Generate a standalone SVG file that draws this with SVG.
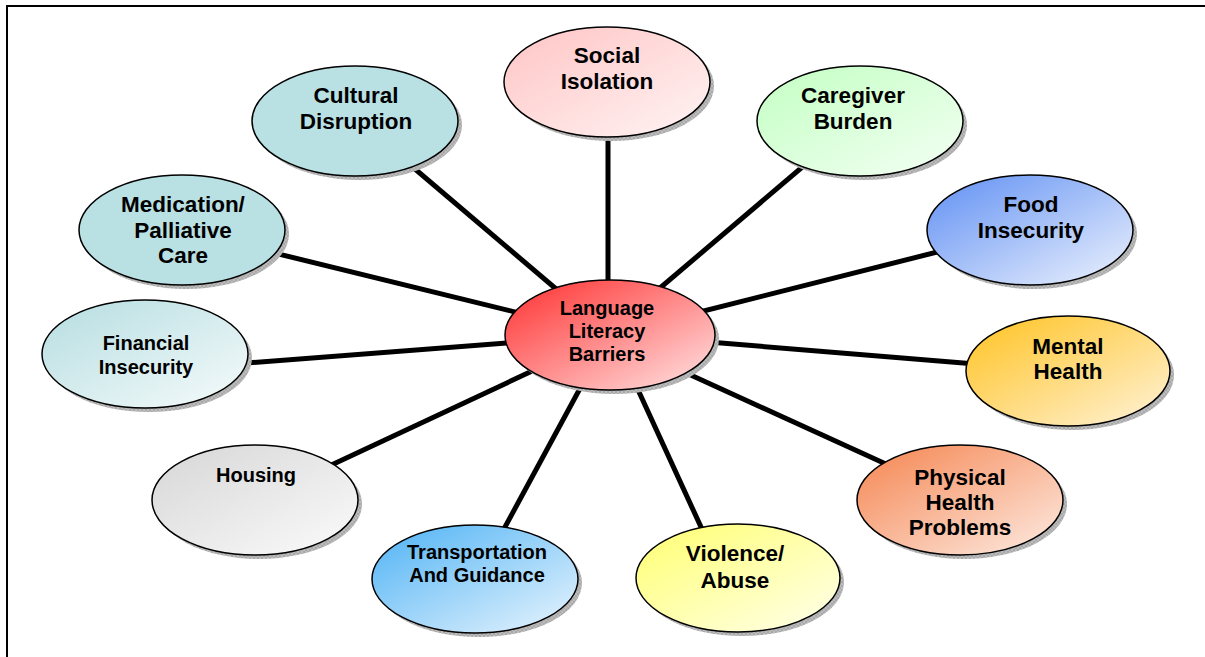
<svg xmlns="http://www.w3.org/2000/svg" width="1205" height="657" viewBox="0 0 1205 657">
  <defs>
    <linearGradient id="gCenter" x1="0" y1="0" x2="1" y2="1">
      <stop offset="0" stop-color="#ff2e2e"/>
      <stop offset="1" stop-color="#ffe6e6"/>
    </linearGradient>
    <linearGradient id="gPink" x1="0" y1="0" x2="1" y2="1">
      <stop offset="0" stop-color="#ffc4c4"/>
      <stop offset="1" stop-color="#fff4f4"/>
    </linearGradient>
    <linearGradient id="gGreen" x1="0" y1="0" x2="1" y2="1">
      <stop offset="0" stop-color="#c2ffc2"/>
      <stop offset="1" stop-color="#f4fff4"/>
    </linearGradient>
    <linearGradient id="gBlue" x1="0" y1="0" x2="1" y2="1">
      <stop offset="0" stop-color="#5f8ff3"/>
      <stop offset="1" stop-color="#eef3fd"/>
    </linearGradient>
    <linearGradient id="gTealLight" x1="0" y1="0" x2="1" y2="1">
      <stop offset="0" stop-color="#b5dde1"/>
      <stop offset="1" stop-color="#f6fbfb"/>
    </linearGradient>
    <linearGradient id="gOrange" x1="0" y1="0" x2="1" y2="1">
      <stop offset="0" stop-color="#ffc21f"/>
      <stop offset="1" stop-color="#fff3da"/>
    </linearGradient>
    <linearGradient id="gGray" x1="0" y1="0" x2="1" y2="1">
      <stop offset="0" stop-color="#d6d6d6"/>
      <stop offset="1" stop-color="#fbfbfb"/>
    </linearGradient>
    <linearGradient id="gSalmon" x1="0" y1="0" x2="1" y2="1">
      <stop offset="0" stop-color="#f5844f"/>
      <stop offset="1" stop-color="#fdece4"/>
    </linearGradient>
    <linearGradient id="gSky" x1="0" y1="0" x2="1" y2="1">
      <stop offset="0" stop-color="#4db2f5"/>
      <stop offset="1" stop-color="#eaf5fd"/>
    </linearGradient>
    <linearGradient id="gYellow" x1="0" y1="0" x2="1" y2="1">
      <stop offset="0" stop-color="#ffff70"/>
      <stop offset="1" stop-color="#ffffec"/>
    </linearGradient>
    <pattern id="hatch" width="4" height="4" patternUnits="userSpaceOnUse">
      <rect width="4" height="4" fill="#bdbdbd"/>
      <path d="M0,0 L4,4 M4,0 L0,4" stroke="#9a9a9a" stroke-width="0.6"/>
    </pattern>
  </defs>
  <style>
    .frame { fill: none; stroke: #000; stroke-width: 2; }
    .link { stroke: #000; stroke-width: 5; stroke-linecap: butt; }
    .shadow { fill: url(#hatch); }
    .node { stroke: #000; stroke-width: 1.5; }
    .label { font-family: "Liberation Sans", Arial, sans-serif; font-weight: bold; fill: #000; text-anchor: middle; }
    .big { font-size: 22.5px; }
    .small { font-size: 20px; }
  </style>

  <path class="frame" d="M7,657 V6 H1205"/>

  <g id="connectors">
    <line class="link" x1="608" y1="120" x2="608" y2="300"/>
    <line class="link" x1="395" y1="152" x2="575" y2="305"/>
    <line class="link" x1="820" y1="152" x2="640" y2="305"/>
    <line class="link" x1="250" y1="247" x2="560" y2="323"/>
    <line class="link" x1="965" y1="245" x2="660" y2="322"/>
    <line class="link" x1="220" y1="365" x2="560" y2="339"/>
    <line class="link" x1="1000" y1="366" x2="660" y2="338"/>
    <line class="link" x1="310" y1="475" x2="560" y2="358"/>
    <line class="link" x1="910" y1="475" x2="660" y2="361"/>
    <line class="link" x1="492" y1="551" x2="590" y2="370"/>
    <line class="link" x1="712" y1="551" x2="628" y2="368"/>
  </g>

  <g id="node-social-isolation">
    <ellipse class="shadow" cx="611" cy="86" rx="103" ry="55"/>
    <ellipse class="node" cx="607" cy="82" rx="103" ry="55" fill="url(#gPink)"/>
    <text class="label big" x="607" y="63">Social</text>
    <text class="label big" x="607" y="89">Isolation</text>
  </g>

  <g id="node-cultural-disruption">
    <ellipse class="shadow" cx="359" cy="125" rx="103" ry="55"/>
    <ellipse class="node" cx="355" cy="121" rx="103" ry="55" fill="#b9e0e3"/>
    <text class="label big" x="356" y="103">Cultural</text>
    <text class="label big" x="356" y="129">Disruption</text>
  </g>

  <g id="node-caregiver-burden">
    <ellipse class="shadow" cx="864" cy="125" rx="103" ry="55"/>
    <ellipse class="node" cx="860" cy="121" rx="103" ry="55" fill="url(#gGreen)"/>
    <text class="label big" x="853" y="103">Caregiver</text>
    <text class="label big" x="853" y="129">Burden</text>
  </g>

  <g id="node-medication">
    <ellipse class="shadow" cx="186" cy="234" rx="103" ry="55"/>
    <ellipse class="node" cx="182" cy="230" rx="103" ry="55" fill="#b9e0e3"/>
    <text class="label big" x="183" y="212">Medication/</text>
    <text class="label big" x="183" y="238">Palliative</text>
    <text class="label big" x="183" y="263">Care</text>
  </g>

  <g id="node-food-insecurity">
    <ellipse class="shadow" cx="1034" cy="234" rx="103" ry="55"/>
    <ellipse class="node" cx="1030" cy="230" rx="103" ry="55" fill="url(#gBlue)"/>
    <text class="label big" x="1031" y="212">Food</text>
    <text class="label big" x="1031" y="238">Insecurity</text>
  </g>

  <g id="node-financial-insecurity">
    <ellipse class="shadow" cx="149" cy="358" rx="103" ry="54"/>
    <ellipse class="node" cx="145" cy="354" rx="103" ry="54" fill="url(#gTealLight)"/>
    <text class="label small" x="146" y="350">Financial</text>
    <text class="label small" x="146" y="374">Insecurity</text>
  </g>

  <g id="node-mental-health">
    <ellipse class="shadow" cx="1072" cy="375" rx="102" ry="55"/>
    <ellipse class="node" cx="1068" cy="371" rx="102" ry="55" fill="url(#gOrange)"/>
    <text class="label big" x="1068" y="354">Mental</text>
    <text class="label big" x="1068" y="379">Health</text>
  </g>

  <g id="node-housing">
    <ellipse class="shadow" cx="259" cy="504" rx="103" ry="55"/>
    <ellipse class="node" cx="255" cy="500" rx="103" ry="55" fill="url(#gGray)"/>
    <text class="label small" x="256" y="482">Housing</text>
  </g>

  <g id="node-physical-health">
    <ellipse class="shadow" cx="964" cy="504" rx="103" ry="55"/>
    <ellipse class="node" cx="960" cy="500" rx="103" ry="55" fill="url(#gSalmon)"/>
    <text class="label big" x="960" y="485">Physical</text>
    <text class="label big" x="960" y="510">Health</text>
    <text class="label big" x="960" y="535">Problems</text>
  </g>

  <g id="node-transportation">
    <ellipse class="shadow" cx="479" cy="583" rx="103" ry="54"/>
    <ellipse class="node" cx="475" cy="579" rx="103" ry="54" fill="url(#gSky)"/>
    <text class="label small" x="477" y="559">Transportation</text>
    <text class="label small" x="477" y="582">And Guidance</text>
  </g>

  <g id="node-violence-abuse">
    <ellipse class="shadow" cx="742" cy="582" rx="102" ry="54"/>
    <ellipse class="node" cx="738" cy="578" rx="102" ry="54" fill="url(#gYellow)"/>
    <text class="label big" x="735" y="561">Violence/</text>
    <text class="label big" x="735" y="588">Abuse</text>
  </g>

  <g id="node-center">
    <ellipse class="shadow" cx="614" cy="339" rx="105" ry="55"/>
    <ellipse class="node" cx="610" cy="335" rx="105" ry="55" fill="url(#gCenter)"/>
    <text class="label small" x="607" y="315">Language</text>
    <text class="label small" x="607" y="338">Literacy</text>
    <text class="label small" x="607" y="361">Barriers</text>
  </g>
</svg>
